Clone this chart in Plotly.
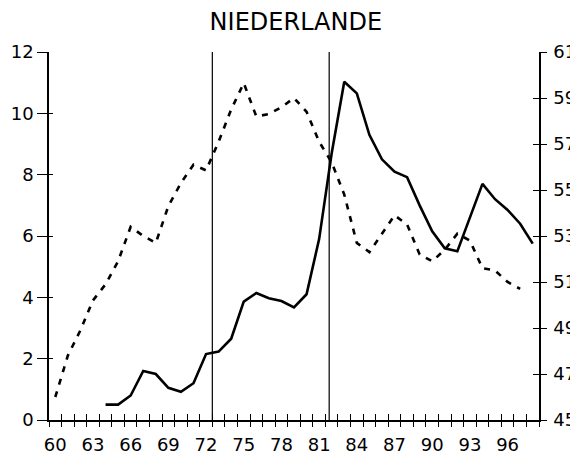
import plotly.graph_objects as go

# ---- data ----
years_solid = list(range(1964, 1999))
solid_vals = [0.5, 0.5, 0.8, 1.6, 1.5, 1.05, 0.92, 1.2, 2.15, 2.23, 2.65, 3.86, 4.14, 3.97,
              3.88, 3.67, 4.1, 5.9, 8.7, 11.03, 10.65, 9.3, 8.5, 8.1, 7.92, 7.0, 6.15, 5.6,
              5.5, 6.6, 7.7, 7.2, 6.85, 6.4, 5.75]
years_dash = list(range(1960, 1998))
dash_vals = [46.0, 47.8, 48.9, 50.2, 50.9, 51.9, 53.4, 53.0, 52.7, 54.3, 55.3, 56.1, 55.85,
             57.1, 58.5, 59.65, 58.2, 58.3, 58.6, 59.0, 58.4, 57.1, 56.2, 54.8, 52.7, 52.3,
             53.1, 53.9, 53.5, 52.2, 51.9, 52.4, 53.1, 52.8, 51.6, 51.5, 51.0, 50.7]
x_label_years = list(range(1960, 1997, 3))
x_tick_text = [str(y % 100) for y in x_label_years]
left_ticks = [0, 2, 4, 6, 8, 10, 12]
right_ticks = [45, 47, 49, 51, 53, 55, 57, 59, 61]
event_years = [1972.5, 1981.8]
title_text = "NIEDERLANDE"

FONT = "DejaVu Sans"
x_range = [1959.5, 1998.5]
boundaries = [y + 0.5 for y in range(1959, 1999)]

fig = go.Figure()
fig.add_trace(go.Scatter(x=years_solid, y=solid_vals, mode="lines",
                         line=dict(color="black", width=2.6), yaxis="y", showlegend=False))
fig.add_trace(go.Scatter(x=years_dash, y=dash_vals, mode="lines",
                         line=dict(color="black", width=2.6, dash="6px,7px"),
                         yaxis="y2", showlegend=False))
# empty helper traces so the tick-only overlay axes get drawn
for xa, ya in [("x2", "y"), ("x3", "y"), ("x", "y3"), ("x", "y4")]:
    fig.add_trace(go.Scatter(x=[], y=[], xaxis=xa, yaxis=ya, showlegend=False,
                             hoverinfo="skip"))

for i, ex in enumerate(event_years):
    fig.add_shape(type="line", xref="x", yref="y", x0=ex, x1=ex,
                  y0=(-0.75 if i == 0 else 0), y1=12,
                  line=dict(color="black", width=1.2))

tickfont = dict(family=FONT, size=18, color="black")
common = dict(showgrid=False, zeroline=False, automargin=False)
# page has an 8px body margin, so the figure is sized to end at the window edge
W, H = 570, 457
fig.update_layout(
    width=W, height=H,
    margin=dict(l=41, r=39, t=44, b=45),
    paper_bgcolor="white", plot_bgcolor="white",
    title=dict(text=title_text, x=0.505, xanchor="center", y=1 - 14 / H, yanchor="middle",
               yref="container", font=dict(family=FONT, size=24, color="black")),
    xaxis=dict(range=x_range, tickvals=x_label_years, ticktext=x_tick_text, ticks="",
               showline=True, linecolor="black", linewidth=1.5,
               tickfont=tickfont, ticklabelstandoff=8, **common),
    xaxis2=dict(range=x_range, overlaying="x", anchor="y", side="bottom",
                tickvals=boundaries, ticks="outside", ticklen=6, tickwidth=1.2,
                tickcolor="black", showticklabels=False, showline=False, **common),
    xaxis3=dict(range=x_range, overlaying="x", anchor="y", side="bottom",
                tickvals=boundaries, ticks="inside", ticklen=6, tickwidth=1.2,
                tickcolor="black", showticklabels=False, showline=False, **common),
    yaxis=dict(range=[0, 12], tickvals=left_ticks, ticks="outside", ticklen=10,
               tickwidth=1.2, tickcolor="black", showline=True, linecolor="black",
               linewidth=1.5, tickfont=tickfont, **common),
    yaxis3=dict(range=[0, 12], overlaying="y", anchor="x", side="left",
                tickvals=left_ticks, ticks="inside", ticklen=4, tickwidth=1.2,
                tickcolor="black", showticklabels=False, showline=False, **common),
    yaxis2=dict(range=[45, 61], overlaying="y", anchor="x", side="right",
                tickvals=right_ticks, ticks="outside", ticklen=6, tickwidth=1.2,
                tickcolor="black", showline=True, linecolor="black", linewidth=1.5,
                tickfont=tickfont, ticklabelstandoff=3, **common),
    yaxis4=dict(range=[45, 61], overlaying="y", anchor="x", side="right",
                tickvals=right_ticks, ticks="inside", ticklen=6, tickwidth=1.2,
                tickcolor="black", showticklabels=False, showline=False, **common),
)

fig.write_html("out.html")
